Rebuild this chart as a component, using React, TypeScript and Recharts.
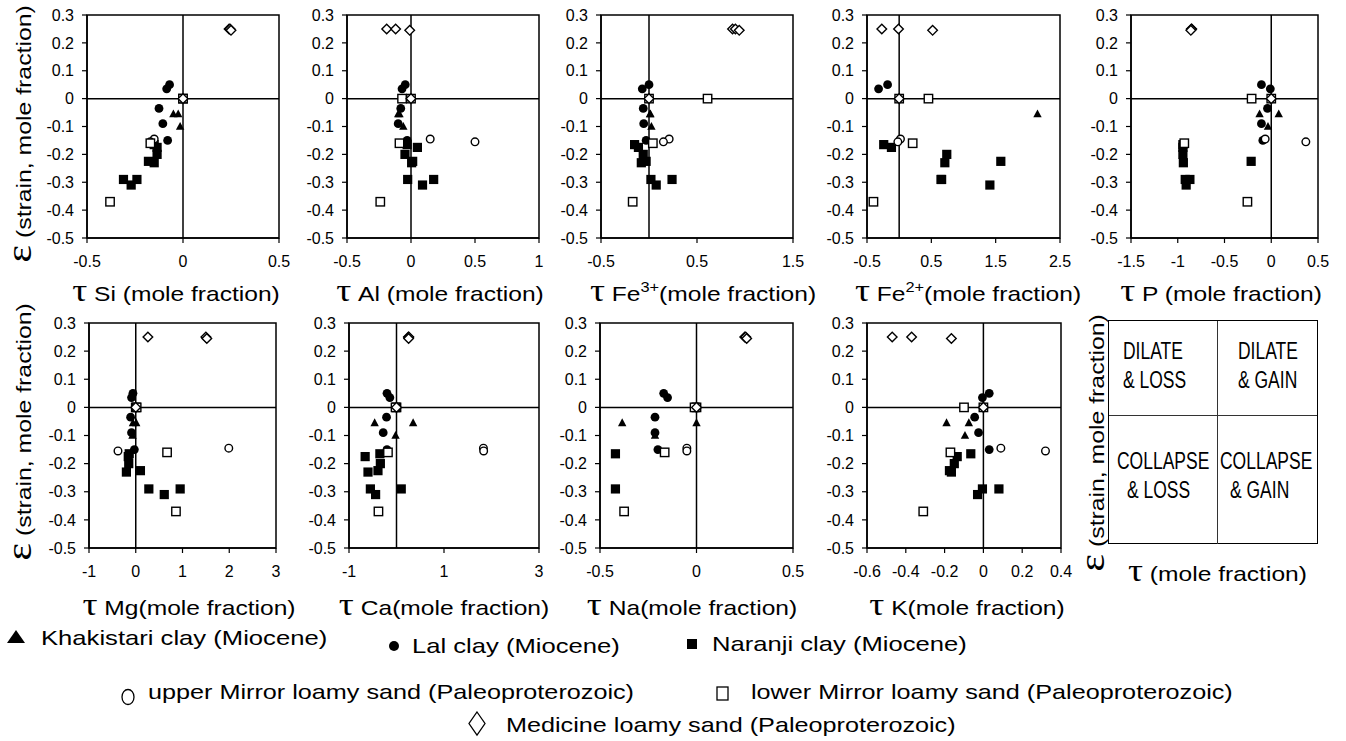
import React from "react";
import { ScatterChart, Scatter, XAxis, YAxis, ReferenceLine, ReferenceArea } from "recharts";

const SANS = "'Liberation Sans', Arial, sans-serif";
const SERIF = "'Liberation Serif', 'Times New Roman', serif";

const yTicks = [0.3, 0.2, 0.1, 0, -0.1, -0.2, -0.3, -0.4, -0.5];
const siTicks = [-0.5, 0, 0.5];
const alTicks = [-0.5, 0, 0.5, 1];
const fe3Ticks = [-0.5, 0.5, 1.5];
const fe2Ticks = [-0.5, 0.5, 1.5, 2.5];
const pTicks = [-1.5, -1, -0.5, 0, 0.5];
const mgTicks = [-1, 0, 1, 2, 3];
const caTicks = [-1, 1, 3];
const naTicks = [-0.5, 0, 0.5];
const kTicks = [-0.6, -0.4, -0.2, 0, 0.2, 0.4];

// strain of each sample
const khakistariEps = [-0.055, -0.055, -0.1];
const lalEps = [0.05, 0.035, -0.035, -0.09, -0.15];
const naranjiEps = [-0.165, -0.175, -0.2, -0.225, -0.23, -0.29, -0.29, -0.31];
const upperMirrorEps = [0, -0.145, -0.155];
const lowerMirrorEps = [0, 0, -0.16, -0.37];
const medicineEps = [0, 0.25, 0.25, 0.245];

// tau per element, same sample order as above (null = not on the plot)
const khakistariTau = {
    Si: [-0.05, -0.025, -0.015],
    Al: [-0.1, -0.09, -0.06],
    Fe3: [0.01, 0.015, 0.025],
    Fe2: [2.15, null, null],
    P: [-0.125, 0.08, -0.035],
    Mg: [0.01, -0.06, -0.07],
    Ca: [-0.46, 0.35, -0.02],
    Na: [-0.385, 0, -0.215],
    K: [-0.19, -0.075, -0.095],
};
const lalTau = {
    Si: [-0.07, -0.085, -0.125, -0.105, -0.08],
    Al: [-0.045, -0.07, -0.08, -0.1, -0.03],
    Fe3: [0, -0.07, -0.06, -0.055, -0.03],
    Fe2: [-0.18, -0.32, null, null, null],
    P: [-0.105, -0.01, -0.04, -0.105, -0.09],
    Mg: [-0.06, -0.09, -0.11, -0.09, -0.03],
    Ca: [-0.2, -0.14, -0.21, -0.28, -0.2],
    Na: [-0.17, -0.15, -0.215, -0.215, -0.2],
    K: [0.03, -0.005, -0.045, -0.025, 0.03],
};
const naranjiTau = {
    Si: [-0.15, -0.135, -0.135, -0.18, -0.15, -0.31, -0.24, -0.27],
    Al: [-0.03, 0.05, -0.047, 0.013, 0.005, -0.026, 0.177, 0.09],
    Fe3: [-0.15, -0.11, -0.06, -0.03, -0.08, 0.02, 0.24, 0.075],
    Fe2: [-0.24, -0.12, 0.74, 1.58, 0.71, 0.65, 0.66, 1.41],
    P: [-0.945, -0.945, -0.945, -0.215, -0.94, -0.92, -0.87, -0.91],
    Mg: [-0.14, -0.16, -0.15, 0.1, -0.2, 0.28, 0.95, 0.61],
    Ca: [-0.35, -0.66, -0.34, -0.39, -0.6, -0.55, 0.1, -0.44],
    Na: [-0.42, null, null, null, null, -0.42, null, null],
    K: [-0.065, -0.135, -0.15, -0.175, -0.165, -0.005, 0.08, -0.03],
};
const upperMirrorTau = {
    Si: [0, -0.15, -0.17],
    Al: [0, 0.15, 0.5],
    Fe3: [0, 0.21, 0.15],
    Fe2: [0, 0.02, -0.02],
    P: [0, -0.065, 0.37],
    Mg: [0, 1.99, -0.38],
    Ca: [0, 1.83, 1.835],
    Na: [0, -0.05, -0.05],
    K: [0, 0.09, 0.32],
};
const lowerMirrorTau = {
    Si: [0, 0, -0.17, -0.38],
    Al: [0, -0.07, -0.09, -0.24],
    Fe3: [0, 0.61, 0.04, -0.17],
    Fe2: [0, 0.455, 0.21, -0.4],
    P: [0, -0.21, -0.93, -0.255],
    Mg: [0, 0.02, 0.67, 0.86],
    Ca: [0, -0.02, -0.18, -0.38],
    Na: [0, -0.01, -0.165, -0.375],
    K: [0, -0.1, -0.17, -0.31],
};
const medicineTau = {
    Si: [0, 0.24, 0.245, 0.25],
    Al: [0, -0.19, -0.12, -0.01],
    Fe3: [0, 0.87, 0.9, 0.94],
    Fe2: [0, -0.27, -0.01, 0.52],
    P: [0, -0.85, -0.855, -0.86],
    Mg: [0, 0.26, 1.5, 1.52],
    Ca: [0, 0.25, 0.26, 0.255],
    Na: [0, 0.25, 0.255, 0.26],
    K: [0, -0.47, -0.37, -0.165],
};

const triangle = (p: any) => (
    <polygon points={`${p.cx},${p.cy - 4.5} ${p.cx - 4.2},${p.cy + 3.3} ${p.cx + 4.2},${p.cy + 3.3}`} fill="#000" />
);
const dot = (p: any) => <circle cx={p.cx} cy={p.cy} r={4.4} fill="#000" />;
const square = (p: any) => <rect x={p.cx - 4.6} y={p.cy - 4.6} width={9.2} height={9.2} fill="#000" />;
const ring = (p: any) => <circle cx={p.cx} cy={p.cy} r={3.8} fill="#fff" stroke="#000" strokeWidth={1.4} />;
const box = (p: any) => <rect x={p.cx - 4.2} y={p.cy - 4.2} width={8.4} height={8.4} fill="#fff" stroke="#000" strokeWidth={1.4} />;
const diamond = (p: any) => (
    <polygon points={`${p.cx},${p.cy - 4.8} ${p.cx + 4.8},${p.cy} ${p.cx},${p.cy + 4.8} ${p.cx - 4.8},${p.cy}`} fill="#fff" stroke="#000" strokeWidth={1.4} />
);

const series = [
    { name: "khakistari", eps: khakistariEps, tau: khakistariTau, shape: triangle },
    { name: "lal", eps: lalEps, tau: lalTau, shape: dot },
    { name: "naranji", eps: naranjiEps, tau: naranjiTau, shape: square },
    { name: "upper", eps: upperMirrorEps, tau: upperMirrorTau, shape: ring },
    { name: "lower", eps: lowerMirrorEps, tau: lowerMirrorTau, shape: box },
    { name: "medicine", eps: medicineEps, tau: medicineTau, shape: diamond },
];

const panels = [
    { el: "Si", name: "Si", sup: "", gap: true, domain: [-0.5, 0.5], ticks: siTicks, x: 87, y: 15, w: 192, h: 223, lx: 176, ly: 298 },
    { el: "Al", name: "Al", sup: "", gap: true, domain: [-0.5, 1], ticks: alTicks, x: 347, y: 15, w: 192, h: 223, lx: 440, ly: 298 },
    { el: "Fe3", name: "Fe", sup: "3+", gap: false, domain: [-0.5, 1.5], ticks: fe3Ticks, x: 601, y: 15, w: 192, h: 223, lx: 703, ly: 298 },
    { el: "Fe2", name: "Fe", sup: "2+", gap: false, domain: [-0.5, 2.5], ticks: fe2Ticks, x: 867, y: 15, w: 193, h: 223, lx: 968, ly: 298 },
    { el: "P", name: "P", sup: "", gap: true, domain: [-1.5, 0.5], ticks: pTicks, x: 1131, y: 15, w: 187, h: 223, lx: 1221, ly: 298 },
    { el: "Mg", name: "Mg", sup: "", gap: false, domain: [-1, 3], ticks: mgTicks, x: 89, y: 323, w: 187, h: 225, lx: 189, ly: 612 },
    { el: "Ca", name: "Ca", sup: "", gap: false, domain: [-1, 3], ticks: caTicks, x: 349, y: 323, w: 190, h: 225, lx: 444, ly: 612 },
    { el: "Na", name: "Na", sup: "", gap: false, domain: [-0.5, 0.5], ticks: naTicks, x: 600, y: 323, w: 193, h: 225, lx: 692, ly: 612 },
    { el: "K", name: "K", sup: "", gap: false, domain: [-0.6, 0.4], ticks: kTicks, x: 867, y: 323, w: 194, h: 225, lx: 967, ly: 612 },
];

const tickStyle = { fill: "#000", fontSize: 16, fontFamily: SANS };

function Panel({ p }: { p: any }) {
    return (
        <div style={{ position: "absolute", left: p.x - 60, top: p.y - 10 }}>
            <ScatterChart width={60 + p.w + 24} height={10 + p.h + 40} margin={{ top: 10, right: 24, bottom: 0, left: 0 }}>
                <XAxis type="number" dataKey="x" domain={p.domain} ticks={p.ticks} allowDataOverflow interval={0}
                    height={40} tick={tickStyle} tickSize={5} tickMargin={13}
                    axisLine={{ stroke: "#000", strokeWidth: 1.5 }} tickLine={{ stroke: "#000", strokeWidth: 1.2 }} />
                <YAxis type="number" dataKey="y" domain={[-0.5, 0.3]} ticks={yTicks} allowDataOverflow interval={0}
                    width={60} tick={tickStyle} tickSize={5} tickMargin={8}
                    axisLine={{ stroke: "#000", strokeWidth: 1.5 }} tickLine={{ stroke: "#000", strokeWidth: 1.2 }} />
                <ReferenceArea x1={p.domain[0]} x2={p.domain[1]} y1={-0.5} y2={0.3} fill="none" stroke="#000" strokeWidth={1.5} />
                <ReferenceLine x={0} stroke="#000" strokeWidth={1.5} />
                <ReferenceLine y={0} stroke="#000" strokeWidth={1.5} />
                {series.map((s) => (
                    <Scatter key={s.name}
                        data={s.eps.map((y, i) => ({ x: (s.tau as any)[p.el][i], y })).filter((d) => d.x !== null)}
                        shape={s.shape} isAnimationActive={false} />
                ))}
            </ScatterChart>
        </div>
    );
}

function XLabel({ p }: { p: any }) {
    return (
        <div style={{
            position: "absolute", left: p.lx, top: p.ly - 18, whiteSpace: "nowrap", fontFamily: SANS,
            fontSize: 21, lineHeight: "21px", transform: "translateX(-50%) scaleX(1.17)",
        }}>
            <span style={{ fontFamily: SERIF, fontSize: 32, lineHeight: "21px" }}>τ</span>
            {" " + p.name}
            {p.sup && <span style={{ fontSize: 14, position: "relative", top: -9 }}>{p.sup}</span>}
            {p.gap ? " " : ""}(mole fraction)
        </div>
    );
}

function YLabel({ cx, cy }: { cx: number; cy: number }) {
    return (
        <div style={{
            position: "absolute", left: cx, top: cy, whiteSpace: "nowrap", fontFamily: SANS, fontSize: 21,
            lineHeight: "22px", transform: "translate(-50%,-50%) rotate(-90deg) scaleX(1.18)",
        }}>
            <span style={{ fontFamily: SERIF, fontSize: 36, lineHeight: "22px" }}>ε</span> (strain, mole fraction)
        </div>
    );
}

function Txt({ x, y, size, sx, children }: any) {
    return (
        <div style={{
            position: "absolute", left: x, top: y, whiteSpace: "nowrap", fontFamily: SANS, fontSize: size,
            lineHeight: `${size}px`, transform: `scaleX(${sx})`, transformOrigin: "left center",
        }}>{children}</div>
    );
}

function Mark({ x, y, w, h, children }: any) {
    return (
        <svg style={{ position: "absolute", left: x, top: y }} width={w} height={h}>{children}</svg>
    );
}

export default function App() {
    return (
        <div style={{ position: "absolute", left: 0, top: 0, width: 1346, height: 741, background: "#fff", color: "#000", overflow: "hidden" }}>
            {panels.map((p) => <Panel key={p.el} p={p} />)}
            {panels.map((p) => <XLabel key={"l" + p.el} p={p} />)}
            <YLabel cx={21} cy={134} />
            <YLabel cx={21} cy={432} />
            <YLabel cx={1094} cy={443} />

            {/* quadrant key */}
            <div style={{ position: "absolute", left: 1108, top: 320, width: 208, height: 222, border: "1.5px solid #000" }} />
            <div style={{ position: "absolute", left: 1217, top: 321, width: 1, height: 223, background: "#333" }} />
            <div style={{ position: "absolute", left: 1109, top: 415, width: 208, height: 1, background: "#333" }} />
            <Txt x={1123} y={340} size={23} sx={0.76}>DILATE</Txt>
            <Txt x={1123} y={369} size={23} sx={0.76}>&amp; LOSS</Txt>
            <Txt x={1238} y={340} size={23} sx={0.76}>DILATE</Txt>
            <Txt x={1238} y={369} size={23} sx={0.76}>&amp; GAIN</Txt>
            <Txt x={1117} y={450} size={23} sx={0.76}>COLLAPSE</Txt>
            <Txt x={1127} y={479} size={23} sx={0.76}>&amp; LOSS</Txt>
            <Txt x={1220} y={450} size={23} sx={0.76}>COLLAPSE</Txt>
            <Txt x={1230} y={479} size={23} sx={0.76}>&amp; GAIN</Txt>
            <div style={{ position: "absolute", left: 1128, top: 560, whiteSpace: "nowrap", fontFamily: SANS, fontSize: 21, lineHeight: "21px", transform: "scaleX(1.17)", transformOrigin: "left center" }}>
                <span style={{ fontFamily: SERIF, fontSize: 32, lineHeight: "21px" }}>τ</span> (mole fraction)
            </div>

            {/* legend */}
            <Mark x={7} y={629} w={20} h={16}><polygon points="9,1 18,14 0,14" fill="#000" /></Mark>
            <Txt x={41} y={627} size={21} sx={1.22}>Khakistari clay (Miocene)</Txt>
            <Mark x={388} y={640} w={12} h={12}><circle cx={6} cy={6} r={5} fill="#000" /></Mark>
            <Txt x={412} y={635} size={21} sx={1.22}>Lal clay (Miocene)</Txt>
            <Mark x={686} y={638} w={12} h={12}><rect x={1} y={1} width={10} height={10} fill="#000" /></Mark>
            <Txt x={712} y={633} size={21} sx={1.22}>Naranji clay (Miocene)</Txt>
            <Mark x={120} y={688} w={16} h={18}><ellipse cx={8} cy={9} rx={6} ry={7.5} fill="none" stroke="#000" strokeWidth={1.3} /></Mark>
            <Txt x={148} y={681} size={21} sx={1.2}>upper Mirror loamy sand (Paleoproterozoic)</Txt>
            <Mark x={715} y={685} w={16} h={18}><rect x={2} y={2} width={11} height={13} fill="none" stroke="#000" strokeWidth={1.3} /></Mark>
            <Txt x={751} y={681} size={21} sx={1.2}>lower Mirror loamy sand (Paleoproterozoic)</Txt>
            <Mark x={468} y={711} w={20} h={26}><polygon points="9,1 17,12.5 9,24 1,12.5" fill="none" stroke="#000" strokeWidth={1.3} /></Mark>
            <Txt x={506} y={714} size={21} sx={1.2}>Medicine loamy sand (Paleoproterozoic)</Txt>
        </div>
    );
}
